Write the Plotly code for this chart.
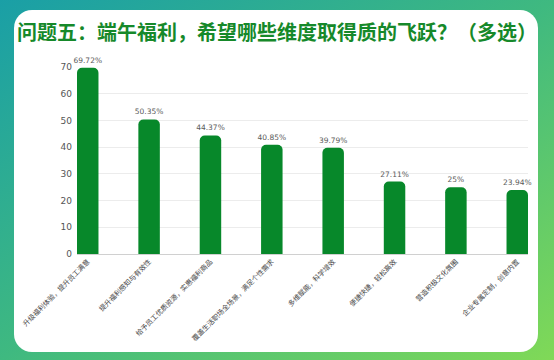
import plotly.graph_objects as go
import base64

categories = [
    "升级福利体验，提升员工满意",
    "提升福利感知与有效性",
    "给予员工优质资源，实惠福利商品",
    "覆盖生活职场全场景，满足个性需求",
    "多维赋能，科学增效",
    "便捷快捷，轻松高效",
    "营造积极文化氛围",
    "企业专属定制，创意内置",
]
values = [69.72, 50.35, 44.37, 40.85, 39.79, 27.11, 25, 23.94]
value_labels = ["69.72%", "50.35%", "44.37%", "40.85%", "39.79%", "27.11%", "25%", "23.94%"]
y_ticks = [0, 10, 20, 30, 40, 50, 60, 70]

W, H = 554, 360
L, R, T, B = 77, 26, 67, 106
pw, ph = W - L - R, H - T - B

svg = f'''<svg xmlns="http://www.w3.org/2000/svg" width="{W}" height="{H}" viewBox="0 0 {W} {H}">
<defs><linearGradient id="g" x1="0" y1="0" x2="1" y2="1">
<stop offset="0" stop-color="#1a9fa6"/><stop offset="0.5" stop-color="#3fb980"/><stop offset="1" stop-color="#80d957"/>
</linearGradient></defs>
<rect x="0" y="0" width="{W}" height="{H}" fill="url(#g)"/>
<rect x="14" y="10" width="524" height="342" rx="18" ry="18" fill="#ffffff"/>
</svg>'''
src = "data:image/svg+xml;base64," + base64.b64encode(svg.encode()).decode()

fig = go.Figure(go.Bar(
    x=categories, y=values, text=value_labels, textposition="outside",
    textfont=dict(size=7.5, color="#5a5a5a", family="DejaVu Sans"),
    constraintext="none",
    marker=dict(color="#07882a", cornerradius=5, line=dict(width=0)),
    width=0.35, cliponaxis=False,
))

fig.update_layout(
    width=W, height=H,
    margin=dict(l=L, r=R, t=T, b=B, autoexpand=False),
    paper_bgcolor="rgba(0,0,0,0)",
    plot_bgcolor="#ffffff",
    showlegend=False,
    images=[dict(source=src, xref="paper", yref="paper",
                 x=-L / pw, y=1 + T / ph, sizex=W / pw, sizey=H / ph,
                 xanchor="left", yanchor="top", sizing="stretch", layer="below")],
    annotations=[dict(text="<b>问题五：端午福利，希望哪些维度取得质的飞跃？（多选）</b>",
                      xref="paper", yref="paper", x=(277 - L) / pw, y=1 + (T - 32) / ph,
                      xanchor="center", yanchor="middle", showarrow=False,
                      font=dict(size=20, color="#16892a", family="Noto Sans CJK SC"))],
    xaxis=dict(range=[-0.175, 7.175], tickangle=-45, showgrid=False, automargin=False,
               showline=True, linecolor="#d0d0d0", linewidth=1, ticks="",
               tickfont=dict(size=7, color="#444444", family="Noto Sans CJK SC")),
    yaxis=dict(range=[0, 70], tickvals=y_ticks, showgrid=True, gridcolor="#ececec", automargin=False,
               zeroline=False, ticks="", ticklabelstandoff=4,
               tickfont=dict(size=9, color="#555555", family="DejaVu Sans")),
    bargap=0.5,
)

fig.write_html("out.html", config={"displayModeBar": False},
               post_script="document.body.style.margin='0';document.body.style.overflow='hidden';")
